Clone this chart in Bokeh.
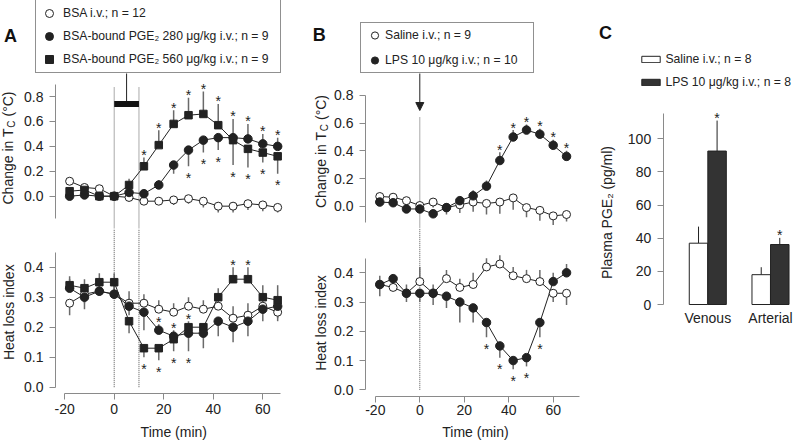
import numpy as np
from bokeh.plotting import figure
from bokeh.layouts import row, column
from bokeh.models import (Range1d, Legend, LegendItem, Label, Arrow, NormalHead,
                          FixedTicker, PrintfTickFormatter, ColumnDataSource)
from bokeh.transform import dodge
from bokeh.core.properties import value
from bokeh.embed import file_html
from bokeh.resources import INLINE

# ------------------------------------------------------------------ data
time_min = [-18, -12, -6, 0, 6, 12, 18, 24, 30, 36, 42, 48, 54, 60, 66]

# Panel A - change in core temperature (degC); errors: sign = side of whisker
a_tc_bsa = [0.12, 0.07, 0.06, 0.00, -0.01, -0.04, -0.04, -0.03, -0.02, -0.04, -0.08, -0.08, -0.06, -0.07, -0.09]
a_tc_bsa_err = [-0.03, -0.03, -0.03, -0.02, -0.03, -0.03, -0.03, -0.04, -0.04, -0.05, -0.05, -0.05, -0.05, -0.05, -0.04]
a_tc_p280 = [0.00, 0.01, 0.00, 0.00, 0.03, 0.02, 0.09, 0.25, 0.37, 0.45, 0.47, 0.47, 0.46, 0.42, 0.40]
a_tc_p280_err = [0.02, 0.02, 0.02, 0.02, 0.03, 0.03, 0.04, -0.07, -0.13, -0.10, -0.10, 0.15, 0.12, 0.08, 0.07]
a_tc_p560 = [0.04, 0.05, 0.00, 0.00, 0.09, 0.24, 0.41, 0.58, 0.65, 0.66, 0.57, 0.45, 0.38, 0.35, 0.32]
a_tc_p560_err = [0.03, 0.03, 0.02, 0.02, 0.05, 0.07, 0.12, 0.11, 0.14, 0.18, 0.17, -0.20, -0.15, -0.08, -0.14]
a_tc_p280_sig = [30, 36, 42, 48, 54, 60, 66]
a_tc_p560_sig = [12, 18, 24, 30, 36, 42, 48, 54, 60, 66]

# Panel A - heat loss index
a_hli_bsa = [0.28, 0.31, 0.32, 0.31, 0.28, 0.28, 0.26, 0.25, 0.27, 0.26, 0.27, 0.23, 0.24, 0.27, 0.25]
a_hli_bsa_err = [-0.04, -0.03, 0.03, 0.03, 0.04, 0.03, 0.03, 0.03, 0.03, 0.03, 0.03, 0.04, 0.04, 0.03, -0.03]
a_hli_p280 = [0.33, 0.30, 0.32, 0.31, 0.27, 0.25, 0.19, 0.17, 0.18, 0.18, 0.22, 0.20, 0.22, 0.26, 0.27]
a_hli_p280_err = [0.03, -0.04, 0.03, 0.04, -0.03, -0.06, 0.02, 0.02, -0.06, -0.05, -0.05, -0.05, -0.05, -0.04, -0.04]
a_hli_p560 = [0.34, 0.33, 0.35, 0.35, 0.22, 0.13, 0.13, 0.16, 0.20, 0.20, 0.30, 0.36, 0.36, 0.30, 0.29]
a_hli_p560_err = [0.03, 0.03, 0.03, 0.03, -0.04, -0.03, -0.04, -0.04, 0.02, -0.03, 0.03, 0.04, 0.04, 0.04, 0.05]
a_hli_p280_sig = [18, 24, 30]
a_hli_p560_sig = [12, 18, 24, 30, 48, 54]

# Panel B - change in core temperature (degC)
b_tc_saline = [0.07, 0.065, 0.04, 0.005, 0.03, -0.01, 0.01, 0.03, 0.02, 0.03, 0.06, -0.01, -0.03, -0.07, -0.06]
b_tc_saline_err = [-0.03, -0.03, -0.03, -0.03, -0.04, -0.05, -0.06, -0.07, -0.08, -0.085, -0.085, -0.07, -0.075, -0.065, -0.05]
b_tc_lps = [0.03, 0.025, -0.02, -0.02, -0.055, -0.01, 0.04, 0.075, 0.145, 0.33, 0.50, 0.55, 0.52, 0.44, 0.36]
b_tc_lps_err = [0.03, 0.03, 0.03, 0.03, 0.03, 0.03, 0.03, 0.04, 0.04, 0.06, 0.05, 0.04, 0.04, 0.04, 0.04]
b_tc_lps_sig = [36, 42, 48, 54, 60, 66]

# Panel B - heat loss index
b_hli_saline = [0.36, 0.35, 0.33, 0.37, 0.33, 0.38, 0.35, 0.36, 0.42, 0.43, 0.39, 0.38, 0.37, 0.33, 0.33]
b_hli_saline_err = [0.03, 0.03, 0.03, 0.05, 0.03, 0.03, 0.03, 0.04, 0.03, 0.03, 0.03, 0.03, 0.04, -0.03, -0.04]
b_hli_lps = [0.36, 0.38, 0.33, 0.33, 0.33, 0.32, 0.30, 0.28, 0.23, 0.15, 0.10, 0.11, 0.23, 0.37, 0.40]
b_hli_lps_err = [-0.04, -0.03, -0.03, -0.03, -0.04, -0.04, -0.07, -0.05, -0.05, -0.04, -0.03, -0.03, -0.05, 0.03, 0.03]
b_hli_lps_sig = [30, 36, 42, 48, 54]

# Panel C - plasma PGE2 (pg/ml)
c_sites = ["Venous", "Arterial"]
c_saline = [37.0, 18.0]
c_saline_err = [10.0, 4.5]
c_lps = [92.6, 36.2]
c_lps_err = [18.4, 4.0]
c_lps_sig = ["Venous", "Arterial"]

infusion_period = [0, 10]    # min, BSA-bound PGE2 infusion (panel A)
lps_injection = 0            # min (panel B)

a_labels = ["BSA i.v.; n = 12", "BSA-bound PGE₂ 280 μg/kg i.v.; n = 9",
            "BSA-bound PGE₂ 560 μg/kg i.v.; n = 9"]
b_labels = ["Saline i.v.; n = 9", "LPS 10 μg/kg i.v.; n = 10"]
c_labels = ["Saline i.v.; n = 8", "LPS 10 μg/kg i.v.; n = 8"]

# ------------------------------------------------------------------ style
FONT = "Liberation Sans"
TEXT = "#222222"
AXIS = "#8a8a8a"
DARK = "#222222"
WHISK = "#6a6a6a"
BARDARK = "#333333"
DOT = "#555555"
LEG_FS = "12.2px"


def make_panel(fig_l, fig_r, fig_t, fig_b, xmap, ymap, yaxis_px, xaxis_py=None):
    """Figure whose frame fills its whole area; axes are pinned with fixed_location."""
    def t_at(pgx):
        return (pgx - xmap[0]) / xmap[1]

    def v_at(pgy):
        return (ymap[0] - pgy) / ymap[1]

    p = figure(width=fig_r - fig_l, height=fig_b - fig_t,
               x_range=Range1d(t_at(fig_l), t_at(fig_r)),
               y_range=Range1d(v_at(fig_b), v_at(fig_t)),
               min_border_left=0, min_border_right=0, min_border_top=0, min_border_bottom=0,
               x_axis_location="below" if xaxis_py is not None else None,
               output_backend="svg", toolbar_location=None)
    p.outline_line_color = None
    p.grid.visible = False
    p.yaxis[0].fixed_location = t_at(yaxis_px)
    if xaxis_py is not None:
        p.xaxis[0].fixed_location = v_at(xaxis_py)
    return p, t_at, v_at


def style_axis(ax, ticks, bounds, fmt=None, overrides=None):
    ax.ticker = FixedTicker(ticks=ticks, minor_ticks=[])
    ax.bounds = bounds
    if fmt:
        ax.formatter = PrintfTickFormatter(format=fmt)
    if overrides:
        ax.major_label_overrides = overrides
    ax.axis_line_color = AXIS
    ax.axis_line_width = 1
    ax.major_tick_line_color = AXIS
    ax.major_tick_out = 6
    ax.major_tick_in = 0
    ax.minor_tick_line_color = None
    ax.major_label_text_font = FONT
    ax.major_label_text_font_size = "14px"
    ax.major_label_text_color = TEXT
    ax.major_label_standoff = 6


def draw_series(p, series):
    for s in series:
        v = np.array(s["v"])
        e = np.array(s["e"])
        p.segment(x0=time_min, y0=v, x1=time_min, y1=v + e, line_color=WHISK, line_width=1.5)
    for s in series:
        p.line(x=time_min, y=s["v"], line_color=DARK, line_width=1)
    rends = []
    for s in series:
        rends.append(p.scatter(x=time_min, y=s["v"], marker=s["marker"], size=s["size"],
                               fill_color=DARK if s["filled"] else "white",
                               line_color=DARK, line_width=1))
    ax, ay, ad = [], [], []
    for s in series:
        for t in s.get("sig", []):
            i = time_min.index(t)
            e = s["e"][i]
            ax.append(t)
            ay.append(s["v"][i] + e)
            ad.append(-2.5 if e >= 0 else 11.5)
    if ax:
        src = ColumnDataSource(dict(x=ax, y=ay, dy=ad, t=["*"] * len(ax)))
        p.text(x="x", y="y", text="t", y_offset="dy", source=src,
               text_font=value(FONT), text_font_size=value("14px"),
               text_align="center", text_baseline="middle", text_color=TEXT)
    return rends


def tc_label(p, t_at, v_at, cx, cy):
    w1, w2 = 76.3, 7.2
    y0 = cy + 56.5
    parts = [("Change in T", "14px", 0, y0),
             ("C", "10px", 4, y0 - w1 - 0.5),
             ("(°C)", "14px", 0, y0 - w1 - w2 - 4.5)]
    for txt, size, dx, ypg in parts:
        p.add_layout(Label(x=t_at(cx + dx), y=v_at(ypg), text=txt, angle=90, angle_units="deg",
                           text_align="left", text_baseline="middle", text_font=FONT,
                           text_font_size=size, text_color=TEXT))


def text_label(p, t_at, v_at, cx, cy, txt, angle=0, size="14px", bold=False):
    p.add_layout(Label(x=t_at(cx), y=v_at(cy), text=txt, angle=angle, angle_units="deg",
                       text_align="center", text_baseline="middle", text_font=FONT,
                       text_font_size=size, text_font_style="bold" if bold else "normal",
                       text_color="#111111" if bold else TEXT))


# ------------------------------------------------------------------ geometry (px)
AX_R, BX_R, CX_R = 290, 580, 794
MID, BOT = 228, 440
A_X = (113.7, 2.4767)    # px of t=0, px per min
B_X = (419.3, 2.2233)

# ---------------- Panel A top
pA1, tA1, vA1 = make_panel(0, AX_R, 0, MID, A_X, (195.7, 124.6), 55)
style_axis(pA1.yaxis[0], [0, 0.2, 0.4, 0.6, 0.8], (-0.18, 0.9), "%.1f")
bar_y = 0.74
legA_bottom = 73
pA1.segment(x0=infusion_period, y0=vA1(MID), x1=infusion_period, y1=vA1(87),
            line_color=DOT, line_dash="1 1", line_width=1)
rA = draw_series(pA1, [
    dict(v=a_tc_bsa, e=a_tc_bsa_err, marker="circle", size=8, filled=False),
    dict(v=a_tc_p280, e=a_tc_p280_err, marker="circle", size=8.5, filled=True, sig=a_tc_p280_sig),
    dict(v=a_tc_p560, e=a_tc_p560_err, marker="square", size=7.5, filled=True, sig=a_tc_p560_sig),
])
pA1.segment(x0=[np.mean(infusion_period)], y0=[bar_y], x1=[np.mean(infusion_period)],
            y1=[vA1(legA_bottom)], line_color=DARK, line_width=1)
pA1.segment(x0=[infusion_period[0]], y0=[bar_y], x1=[infusion_period[1]], y1=[bar_y],
            line_color="#111111", line_width=6)
legA = Legend(items=[LegendItem(label=l, renderers=[r]) for l, r in zip(a_labels, rA)],
              location=(35, MID - legA_bottom),
              padding=3, margin=0, spacing=3, glyph_width=20, glyph_height=20, label_height=20,
              label_standoff=4, label_width=214, label_text_font=FONT, label_text_font_size=LEG_FS,
              label_text_color=TEXT, border_line_color=DARK, border_line_width=1,
              background_fill_color="white", background_fill_alpha=1)
pA1.add_layout(legA)
tc_label(pA1, tA1, vA1, 7, 147.5)
text_label(pA1, tA1, vA1, 10, 35, "A", size="18px", bold=True)

# ---------------- Panel A bottom
pA2, tA2, vA2 = make_panel(0, AX_R, MID, BOT, A_X, (386.7, 300.0), 55, 393.3)
style_axis(pA2.yaxis[0], [0, 0.1, 0.2, 0.3, 0.4], (0, 0.45), "%.1f")
style_axis(pA2.xaxis[0], [-20, 0, 20, 40, 60], (-20, 67), "%d")
pA2.xaxis[0].major_label_standoff = 4
pA2.segment(x0=infusion_period, y0=0, x1=infusion_period, y1=vA2(MID),
            line_color=DOT, line_dash="1 1", line_width=1)
draw_series(pA2, [
    dict(v=a_hli_bsa, e=a_hli_bsa_err, marker="circle", size=8, filled=False),
    dict(v=a_hli_p280, e=a_hli_p280_err, marker="circle", size=8.5, filled=True, sig=a_hli_p280_sig),
    dict(v=a_hli_p560, e=a_hli_p560_err, marker="square", size=7.5, filled=True, sig=a_hli_p560_sig),
])
text_label(pA2, tA2, vA2, 8, 311.7, "Heat loss index", angle=90)
text_label(pA2, tA2, vA2, 173.3, 431.5, "Time (min)")

# ---------------- Panel B top
pB1, tB1, vB1 = make_panel(AX_R, BX_R, 0, MID, B_X, (205.7, 138.4), 365)
style_axis(pB1.yaxis[0], [0, 0.2, 0.4, 0.6, 0.8], (-0.12, 0.8), "%.1f")
pB1.segment(x0=[lps_injection], y0=[vB1(MID)], x1=[lps_injection], y1=[vB1(117)],
            line_color=DOT, line_dash="1 1", line_width=1)
rB = draw_series(pB1, [
    dict(v=b_tc_saline, e=b_tc_saline_err, marker="circle", size=8, filled=False),
    dict(v=b_tc_lps, e=b_tc_lps_err, marker="circle", size=8.5, filled=True, sig=b_tc_lps_sig),
])
legB_bottom = 73
pB1.add_layout(Arrow(x_start=lps_injection, y_start=vB1(legB_bottom), x_end=lps_injection,
                     y_end=vB1(110), line_color=DARK, line_width=1,
                     end=NormalHead(size=8, fill_color=DARK, line_color=DARK)))
legB = Legend(items=[LegendItem(label=l, renderers=[r]) for l, r in zip(b_labels, rB)],
              location=(360 - AX_R, MID - legB_bottom),
              padding=3, margin=0, spacing=7, glyph_width=21, glyph_height=18, label_height=18,
              label_standoff=0, label_width=145, label_text_font=FONT, label_text_font_size=LEG_FS,
              label_text_color=TEXT, border_line_color=DARK, border_line_width=1,
              background_fill_color="white", background_fill_alpha=1)
pB1.add_layout(legB)
tc_label(pB1, tB1, vB1, 320, 151)
text_label(pB1, tB1, vB1, 318.7, 34.2, "B", size="18px", bold=True)

# ---------------- Panel B bottom
pB2, tB2, vB2 = make_panel(AX_R, BX_R, MID, BOT, B_X, (389.3, 292.5), 365, 395.7)
style_axis(pB2.yaxis[0], [0, 0.1, 0.2, 0.3, 0.4], (0, 0.45), "%.1f")
style_axis(pB2.xaxis[0], [-20, 0, 20, 40, 60], (-20, 72), "%d")
pB2.xaxis[0].major_label_standoff = 3
pB2.segment(x0=[lps_injection], y0=[0], x1=[lps_injection], y1=[vB2(MID)],
            line_color=DOT, line_dash="1 1", line_width=1)
draw_series(pB2, [
    dict(v=b_hli_saline, e=b_hli_saline_err, marker="circle", size=8, filled=False),
    dict(v=b_hli_lps, e=b_hli_lps_err, marker="circle", size=8.5, filled=True, sig=b_hli_lps_sig),
])
text_label(pB2, tB2, vB2, 320, 322.5, "Heat loss index", angle=90)
text_label(pB2, tB2, vB2, 475, 431.5, "Time (min)")

# ---------------- Panel C
pC, tC, vC = make_panel(BX_R, CX_R, 0, BOT, (707.3 - 62.7, 62.7), (304.0, 1.657), 662.7, 304.0)
style_axis(pC.yaxis[0], [0, 20, 40, 60, 80, 100], (0, 115), "%d")
pos = list(range(1, len(c_sites) + 1))
style_axis(pC.xaxis[0], pos, "auto", None, {p_: s for p_, s in zip(pos, c_sites)})
pC.xaxis[0].axis_line_color = None
pC.xaxis[0].major_tick_line_color = None
pC.xaxis[0].major_tick_out = 0
pC.xaxis[0].major_label_standoff = 5
srcC = ColumnDataSource(dict(pos=pos, saline=c_saline, lps=c_lps,
                             saline_top=list(np.array(c_saline) + np.array(c_saline_err)),
                             lps_top=list(np.array(c_lps) + np.array(c_lps_err))))
dw = 0.148
bw = 0.295
pC.segment(x0=dodge("pos", -dw, range=pC.x_range), y0="saline", x1=dodge("pos", -dw, range=pC.x_range),
           y1="saline_top", source=srcC, line_color=DARK, line_width=1)
pC.segment(x0=dodge("pos", dw, range=pC.x_range), y0="lps", x1=dodge("pos", dw, range=pC.x_range),
           y1="lps_top", source=srcC, line_color=DARK, line_width=1)
rCs = pC.vbar(x=dodge("pos", -dw, range=pC.x_range), top="saline", bottom=0, width=bw, source=srcC,
              fill_color="white", line_color=DARK, line_width=1)
rCl = pC.vbar(x=dodge("pos", dw, range=pC.x_range), top="lps", bottom=0, width=bw, source=srcC,
              fill_color=BARDARK, line_color=DARK, line_width=1)
sig_i = [c_sites.index(s) for s in c_lps_sig]
srcCs = ColumnDataSource(dict(x=[pos[i] + dw for i in sig_i],
                              y=[c_lps[i] + c_lps_err[i] for i in sig_i], t=["*"] * len(sig_i)))
pC.text(x="x", y="y", text="t", source=srcCs, y_offset=-2.5, text_font=value(FONT),
        text_font_size=value("14px"), text_align="center", text_baseline="middle", text_color=TEXT)
legC = Legend(items=[LegendItem(label=c_labels[0], renderers=[rCs]),
                     LegendItem(label=c_labels[1], renderers=[rCl])],
              location=(639.4 - BX_R, BOT - 89),
              padding=0, margin=0, spacing=8, glyph_width=23, glyph_height=8, label_height=15,
              label_standoff=3, label_text_font=FONT, label_text_font_size=LEG_FS,
              label_text_baseline="alphabetic", label_text_color=TEXT,
              border_line_color=None, background_fill_alpha=0)
pC.add_layout(legC)
text_label(pC, tC, vC, 606.7, 212, "Plasma PGE₂ (pg/ml)", angle=90)
text_label(pC, tC, vC, 605, 32.5, "C", size="18px", bold=True)

layout = row(column(pA1, pA2), column(pB1, pB2), pC)
open("out.html", "w").write(file_html(layout, INLINE))
